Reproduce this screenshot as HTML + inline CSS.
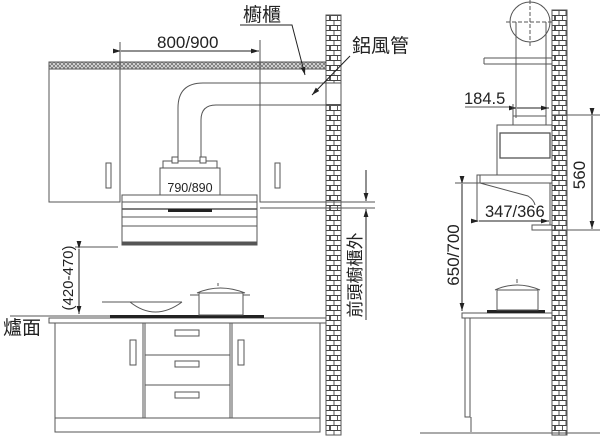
<!DOCTYPE html>
<html><head><meta charset="utf-8"><style>
html,body{margin:0;padding:0;background:#fff;}
svg{display:block;}
text{font-family:"Liberation Sans","Noto Sans CJK TC",sans-serif;fill:#222;}
</style></head><body>
<svg width="600" height="442" viewBox="0 0 600 442" xmlns="http://www.w3.org/2000/svg">
<defs>
<pattern id="brick" x="0" y="0" width="15" height="10" patternUnits="userSpaceOnUse">
<rect width="15" height="10" fill="#fff"/>
<path d="M0 0.5H15M0 5.5H15M4 0.5V5.5M11 0.5V5.5M0.5 5.5V10M7.5 5.5V10M14.5 5.5V10" stroke="#444" stroke-width="0.9" fill="none"/>
</pattern>
<pattern id="hatch" width="4" height="4" patternUnits="userSpaceOnUse">
<rect width="4" height="4" fill="#ddd"/>
<path d="M0 0L4 4M4 0L0 4" stroke="#666" stroke-width="0.7"/>
</pattern>
<marker id="ar" viewBox="0 0 10 6" refX="10" refY="3" markerWidth="8" markerHeight="5" orient="auto"><path d="M0 0L10 3L0 6z" fill="#222"/></marker>
</defs>
<g fill="none" stroke="#555" stroke-width="1">
<rect x="326" y="15" width="15" height="420" fill="url(#brick)" stroke="#555"/>
<rect x="326" y="83" width="15" height="22" fill="#fff"/>
<line x1="326" y1="105" x2="341" y2="105" stroke-width="2"/>
<rect x="49" y="62" width="277" height="7" fill="url(#hatch)"/>
<rect x="49" y="69" width="71" height="133"/>
<rect x="260" y="69" width="66" height="133"/>
<rect x="106" y="163" width="5" height="25"/>
<rect x="275" y="163" width="5" height="25"/>
<line x1="120" y1="42" x2="120" y2="69"/><line x1="260" y1="40" x2="260" y2="69"/>
<line x1="121" y1="51" x2="259" y2="51" stroke="#222" marker-start="url(#ar)" marker-end="url(#ar)"/>
<path d="M178 157V108Q178 83 203 83H326"/>
<path d="M201 157V120Q201 105 216 105H326"/>
<rect x="163" y="161" width="54" height="7"/>
<rect x="172" y="157" width="6" height="6" fill="#fff"/><rect x="200" y="157" width="6" height="6" fill="#fff"/>
<rect x="160" y="168" width="60" height="35" fill="#fff"/>
<rect x="122" y="195" width="135" height="50" fill="#fff"/>
<line x1="122" y1="202" x2="257" y2="202"/>
<line x1="122" y1="209" x2="257" y2="209" stroke-width="1.5"/>
<rect x="168" y="209" width="44" height="3" fill="#222" stroke="none"/>
<line x1="122" y1="217" x2="257" y2="217"/>
<line x1="122" y1="226" x2="257" y2="226"/>
<line x1="122" y1="243" x2="257" y2="243" stroke-width="3"/>
<line x1="260" y1="202" x2="375" y2="202"/>
<line x1="260" y1="208" x2="375" y2="208"/>
<line x1="366" y1="170" x2="366" y2="201" stroke="#222" marker-end="url(#ar)"/>
<line x1="366" y1="240" x2="366" y2="209" stroke="#222" marker-end="url(#ar)"/>
<line x1="366" y1="240" x2="366" y2="320" stroke="#333"/>
<line x1="75" y1="247" x2="118" y2="247"/>
<line x1="79" y1="249" x2="79" y2="314" stroke="#222" marker-start="url(#ar)" marker-end="url(#ar)"/>
<line x1="10" y1="316" x2="110" y2="316"/>
<rect x="49" y="318" width="277" height="5" fill="#fff"/>
<rect x="110" y="315" width="154" height="3" fill="#222" stroke="none"/>
<path d="M102 302H182M130 302Q155 322 182 302" />
<path d="M199 293H243V315H199Z M197 293Q220 283 245 293 M190 295H199 M243 295H250 M218 286V283"/>
<rect x="55" y="323" width="265" height="109"/>
<line x1="55" y1="418" x2="320" y2="418"/>
<line x1="143" y1="323" x2="143" y2="418"/><line x1="145" y1="323" x2="145" y2="418"/>
<line x1="230" y1="323" x2="230" y2="418"/><line x1="232" y1="323" x2="232" y2="418"/>
<line x1="145" y1="355" x2="230" y2="355"/><line x1="145" y1="385" x2="230" y2="385"/>
<rect x="175" y="330" width="24" height="6"/><rect x="175" y="361" width="24" height="6"/><rect x="175" y="392" width="24" height="6"/>
<rect x="130" y="340" width="6" height="25"/><rect x="238" y="340" width="6" height="25"/>
<path d="M240 25H292L305 75" stroke="#222" marker-end="url(#ar)"/>
<path d="M350 56L312 95" stroke="#222" marker-end="url(#ar)"/>

<rect x="552" y="10" width="15" height="425" fill="url(#brick)"/>
<circle cx="530" cy="22" r="20"/>
<line x1="530" y1="0" x2="530" y2="48" stroke-dasharray="4 2"/>
<line x1="506" y1="22" x2="554" y2="22" stroke-dasharray="4 2"/>
<line x1="516" y1="22" x2="516" y2="118"/><line x1="546" y1="22" x2="546" y2="118"/>
<path d="M484 58H552M484 64H552M484 58V64"/>
<line x1="465" y1="107" x2="510" y2="107"/>
<line x1="517" y1="108" x2="549" y2="108" stroke="#222" marker-start="url(#ar)" marker-end="url(#ar)"/>
<line x1="513" y1="104" x2="513" y2="118"/>
<rect x="513" y="116" width="33" height="9"/>
<rect x="497" y="125" width="55" height="50"/>
<rect x="500" y="133" width="50" height="25" stroke-width="1.3"/>
<rect x="477" y="175" width="75" height="8" fill="#fff"/>
<line x1="480" y1="175" x2="480" y2="183"/>
<path d="M480 183L528 196Q534 200 535 205"/>
<line x1="477" y1="183" x2="477" y2="222"/>
<line x1="550" y1="183" x2="550" y2="225"/>
<rect x="532" y="225" width="20" height="5"/>
<line x1="479" y1="221" x2="549" y2="221" stroke="#222" marker-start="url(#ar)" marker-end="url(#ar)"/>
<line x1="552" y1="115" x2="600" y2="115"/><line x1="552" y1="230" x2="600" y2="230"/>
<line x1="592" y1="116" x2="592" y2="229" stroke="#222" marker-start="url(#ar)" marker-end="url(#ar)"/>
<line x1="455" y1="183" x2="477" y2="183"/>
<line x1="462" y1="184" x2="462" y2="311" stroke="#222" marker-start="url(#ar)" marker-end="url(#ar)"/>
<rect x="462" y="313" width="90" height="5" fill="#fff"/>
<rect x="487" y="310" width="58" height="3" fill="#222" stroke="none"/>
<path d="M497 290H538V310H497Z M495 290Q517 280 540 290 M517 283V279"/>
<path d="M465 318V417H470V318 M471 417V432"/>
<line x1="420" y1="433" x2="600" y2="433"/>
</g>
<g font-size="16">
<text x="243" y="21" font-size="19">櫥櫃</text>
<text x="352" y="52" font-size="19">鋁風管</text>
<text x="157" y="48" font-size="17">800/900</text>
<text x="3" y="334" font-size="19">爐面</text>
<text x="190" y="192" text-anchor="middle" font-size="12.5">790/890</text>
<text transform="translate(73,278) rotate(-90)" text-anchor="middle" font-size="15">(420-470)</text>
<text transform="translate(361,275) rotate(-90)" text-anchor="middle" font-size="17">前頭櫥櫃外</text>
<text x="464" y="104" font-size="16.5">184.5</text>
<text x="485" y="217" font-size="16.5">347/366</text>
<text transform="translate(585,175) rotate(-90)" text-anchor="middle" font-size="17">560</text>
<text transform="translate(459,255) rotate(-90)" text-anchor="middle" font-size="17">650/700</text>
</g>
</svg>
</body></html>
